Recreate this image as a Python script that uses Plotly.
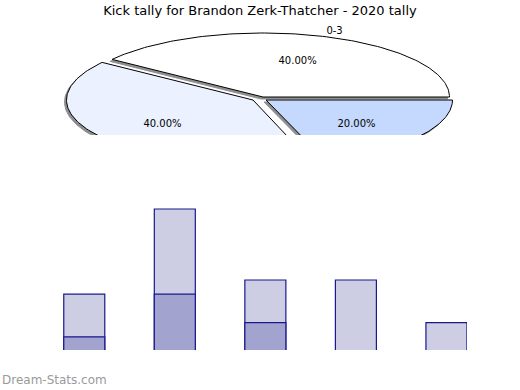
import numpy as np
import plotly.graph_objects as go

# ---------------- data ----------------
title_text = "Kick tally for Brandon Zerk-Thatcher - 2020 tally"
pie_labels = ["0-3", "4-6", "7+"]
pie_values = [2, 2, 1]
bar_categories = ["Rd 1", "Rd 2", "Rd 3", "Rd 4", "Rd 5"]
bar_total = [4, 10, 5, 5, 2]
bar_made = [1, 4, 2, 0, 0]
watermark = "Dream-Stats.com"

# ---------------- styles ----------------
W, H = 520, 390
CX, CY, RX, RY = 263, 97, 186.5, 64          # ellipse geometry (pixels)
PIE_CLIP = 135                                # pie area bottom (pixel)
explode = [(0, 0), (-10, 3), (3, 3)]
shadow_off = (-2, 2)
pie_colors = ["#FFFFFF", "#EBF1FE", "#C5D9FE"]
font = "DejaVu Sans"
TEXT_NUDGE = 1.5

fig = go.Figure()

total = float(sum(pie_values))
fracs = [v / total for v in pie_values]
starts = np.cumsum([0] + fracs[:-1]) * 360.0


def wedge(a0, a1, dx, dy):
    t = np.radians(np.linspace(a0, a1, 120))
    xs = np.concatenate([[CX + dx], CX + dx + RX * np.cos(t), [CX + dx]])
    ys = np.concatenate([[CY + dy], CY + dy - RY * np.sin(t), [CY + dy]])
    return xs, ys


# shadows
for i, f in enumerate(fracs):
    a0 = starts[i]
    a1 = a0 + f * 360
    dx, dy = explode[i]
    xs, ys = wedge(a0, a1, dx + shadow_off[0], dy + shadow_off[1])
    fig.add_trace(go.Scatter(x=xs, y=ys, xaxis="x2", yaxis="y2", mode="lines",
                             fill="toself", fillcolor="#8f8f8f",
                             line=dict(color="#8f8f8f", width=1),
                             hoverinfo="skip", showlegend=False))
# slices
for i, f in enumerate(fracs):
    a0 = starts[i]
    a1 = a0 + f * 360
    dx, dy = explode[i]
    xs, ys = wedge(a0, a1, dx, dy)
    fig.add_trace(go.Scatter(x=xs, y=ys, xaxis="x2", yaxis="y2", mode="lines",
                             fill="toself", fillcolor=pie_colors[i],
                             line=dict(color="#000000", width=1),
                             name=pie_labels[i], hoverinfo="skip", showlegend=False))

# labels
px_, py_, pt_, nx_, ny_, nt_, npos = [], [], [], [], [], [], []
for i, f in enumerate(fracs):
    mid = np.radians(starts[i] + f * 180)
    dx, dy = explode[i]
    px_.append(CX + dx + 0.6 * RX * np.cos(mid))
    py_.append(CY + dy - 0.6 * RY * np.sin(mid) + TEXT_NUDGE)
    pt_.append(f"{f * 100:.2f}%")
    nx_.append(CX + dx + 1.1 * RX * np.cos(mid))
    ny_.append(CY + dy - 1.1 * RY * np.sin(mid) + TEXT_NUDGE)
    nt_.append(pie_labels[i])
    npos.append("middle right" if np.cos(mid) >= 0 else "middle left")
fig.add_trace(go.Scatter(x=px_, y=py_, text=pt_, mode="text", xaxis="x2", yaxis="y2",
                         textfont=dict(family=font, size=10, color="#000"),
                         cliponaxis=True, hoverinfo="skip", showlegend=False))
fig.add_trace(go.Scatter(x=nx_, y=ny_, text=nt_, mode="text", xaxis="x2", yaxis="y2",
                         textposition=npos,
                         textfont=dict(family=font, size=10, color="#000"),
                         cliponaxis=True, hoverinfo="skip", showlegend=False))

# bars
fig.add_trace(go.Bar(x=bar_categories, y=bar_total, width=0.453,
                     marker=dict(color="#CDCDE4", line=dict(color="#18188F", width=1.2)),
                     name="Total", showlegend=False))
fig.add_trace(go.Bar(x=bar_categories, y=bar_made, width=0.453,
                     marker=dict(color="#A3A3D0", line=dict(color="#18188F", width=1.2)),
                     name="Made", showlegend=False))

unit = 14.2
fig.update_layout(
    width=W, height=H, margin=dict(l=0, r=0, t=0, b=0),
    paper_bgcolor="white", plot_bgcolor="rgba(0,0,0,0)",
    barmode="overlay",
    title=dict(text=title_text, x=0.5, xanchor="center", y=1 - 10 / H, yanchor="middle",
               yref="paper", font=dict(family=font, size=13, color="#000")),
    xaxis=dict(domain=[39 / W, 467 / W], range=[-0.5, 4.227], type="category",
               visible=False, showgrid=False, zeroline=False),
    yaxis=dict(domain=[40 / H, 240 / H], range=[0.07, 0.07 + 200 / unit],
               visible=False, showgrid=False, zeroline=False),
    xaxis2=dict(domain=[0, 1], range=[0, W], visible=False, anchor="y2"),
    yaxis2=dict(domain=[1 - PIE_CLIP / H, 1], range=[PIE_CLIP, 0], visible=False, anchor="x2"),
    annotations=[dict(text=watermark, x=0, y=10 / H, xref="paper", yref="paper",
                      xanchor="left", yanchor="middle", showarrow=False,
                      font=dict(family=font, size=12, color="#9a9a9a"))],
)

fig.write_html("out.html", config={"displayModeBar": False},
               post_script="document.body.style.margin='0px';")
